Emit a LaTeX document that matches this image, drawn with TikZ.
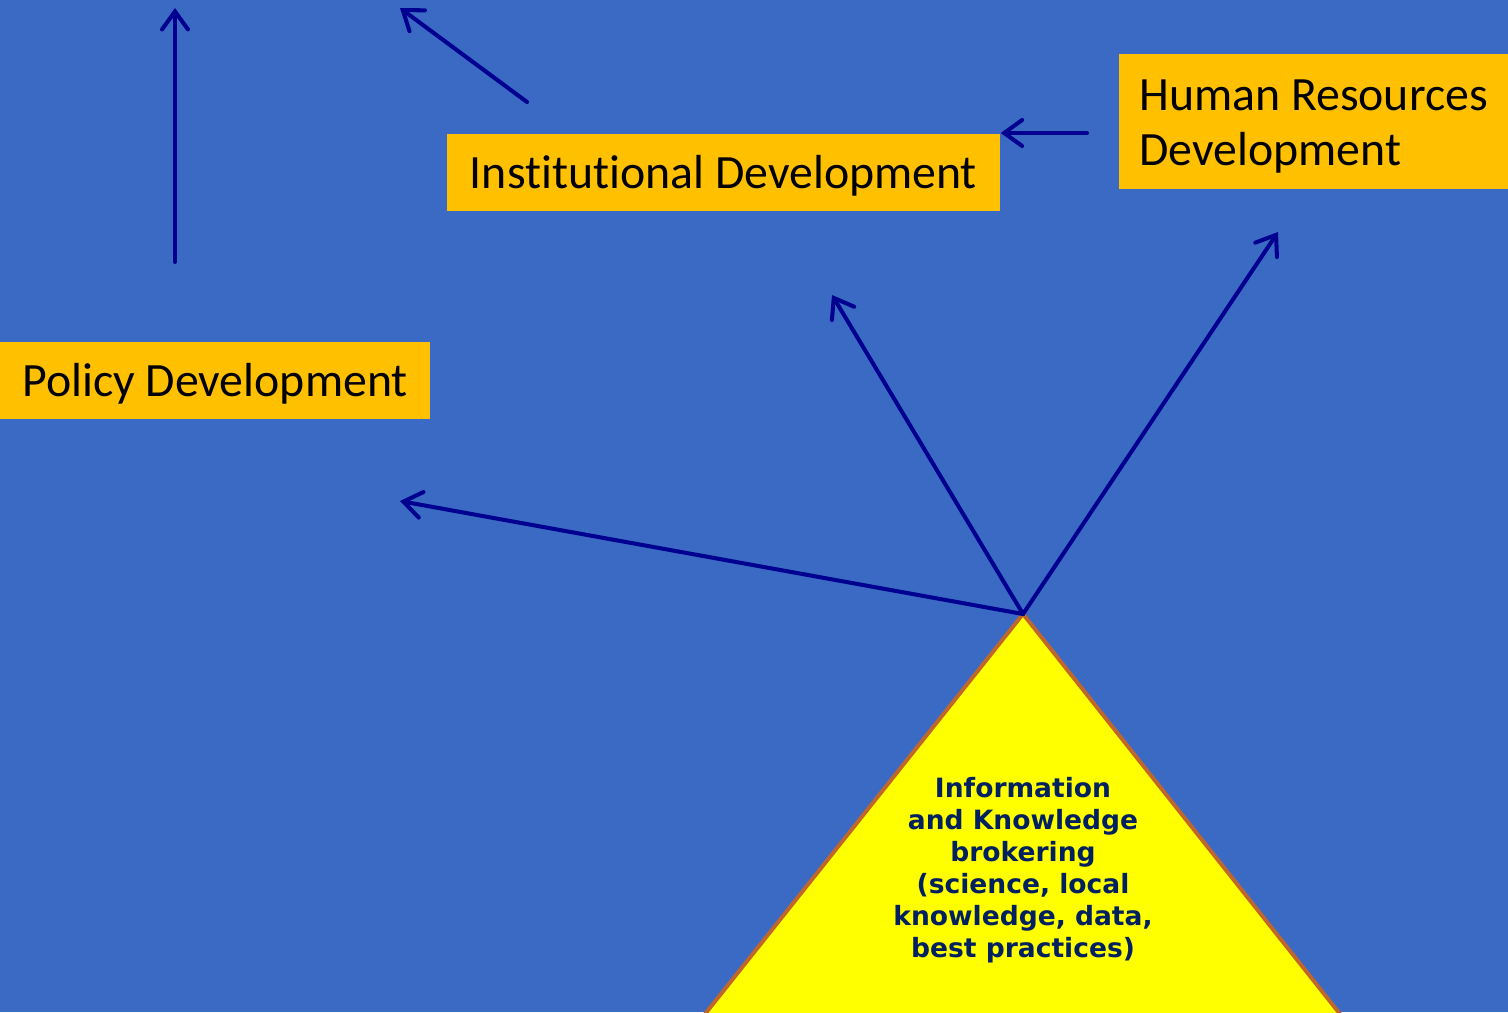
\documentclass[tikz,border=0pt]{standalone}
\usepackage{fontspec}
\setmainfont{Carlito}[Ligatures=NoCommon]
\newfontfamily\verdana{DejaVu Sans}
\usetikzlibrary{arrows.meta}
\definecolor{bgblue}{HTML}{3A6AC4}
\definecolor{boxorange}{HTML}{FFC000}
\definecolor{arrowblue}{HTML}{000090}
\definecolor{textnavy}{HTML}{002060}
\definecolor{triedge}{HTML}{C0662B}
\definecolor{triyellow}{HTML}{FFFF00}
\tikzset{
	devbox/.style={fill=boxorange, inner sep=0pt, text height=12.2pt, font=\fontsize{13.6}{15.6}\selectfont},
	flow/.style={arrowblue, line width=1.15pt, line cap=round, -{Straight Barb[length=1.8mm, width=2.6mm, line width=1.15pt, line cap=round]}}
}
\begin{document}
\begin{tikzpicture}
			%background
			\fill[bgblue] (0,0) rectangle (15.08,-10.12);
			\useasboundingbox (0,0) rectangle (15.08,-10.12);
			%coordinates
			\coordinate (apex) at (10.23,-6.14);
			\coordinate (L) at (7.05,-10.14);
			\coordinate (R) at (13.40,-10.14);
			\coordinate (toPolicy) at (4.00,-5.01);
			\coordinate (toInst) at (8.32,-2.95);
			\coordinate (toHR) at (12.78,-2.32);
			\coordinate (p0) at (1.75,-2.62);
			\coordinate (p1) at (1.75,-0.08);
			\coordinate (i0) at (5.27,-1.02);
			\coordinate (i1) at (4.00,-0.08);
			\coordinate (h0) at (10.87,-1.33);
			%Boxes
			\node[devbox, text depth=3pt, minimum width=4.30cm, minimum height=0.77cm] (policy) at (2.15,-3.805) {Policy Development};
			\node[devbox, text depth=3pt, minimum width=5.53cm, minimum height=0.77cm] (inst) at (7.235,-1.725) {Institutional Development};
			\node[devbox, text height=27.8pt, text depth=3pt, minimum width=3.89cm, minimum height=1.35cm, align=left] (hr) at (13.135,-1.215) {Human Resources\\Development};
			%Base
			\draw[triedge, line width=1.1pt, fill=triyellow] (L) -- (apex) -- (R);
			\node[textnavy, align=center, font=\verdana\bfseries\fontsize{7.55}{9.1}\selectfont] (info) at (10.23,-8.70) {Information\\and Knowledge\\brokering\\(science, local\\knowledge, data,\\best practices)};
			%Arrows
			\begin{scope}
				\draw[flow] (apex) -- (toPolicy);
				\draw[flow] (apex) -- (toInst);
				\draw[flow] (apex) -- (toHR);
				\draw[flow] (h0) -- (inst.east |- h0);
				\draw[flow] (p0) -- (p1);
				\draw[flow] (i0) -- (i1);
			\end{scope}
		\end{tikzpicture}
\end{document}
